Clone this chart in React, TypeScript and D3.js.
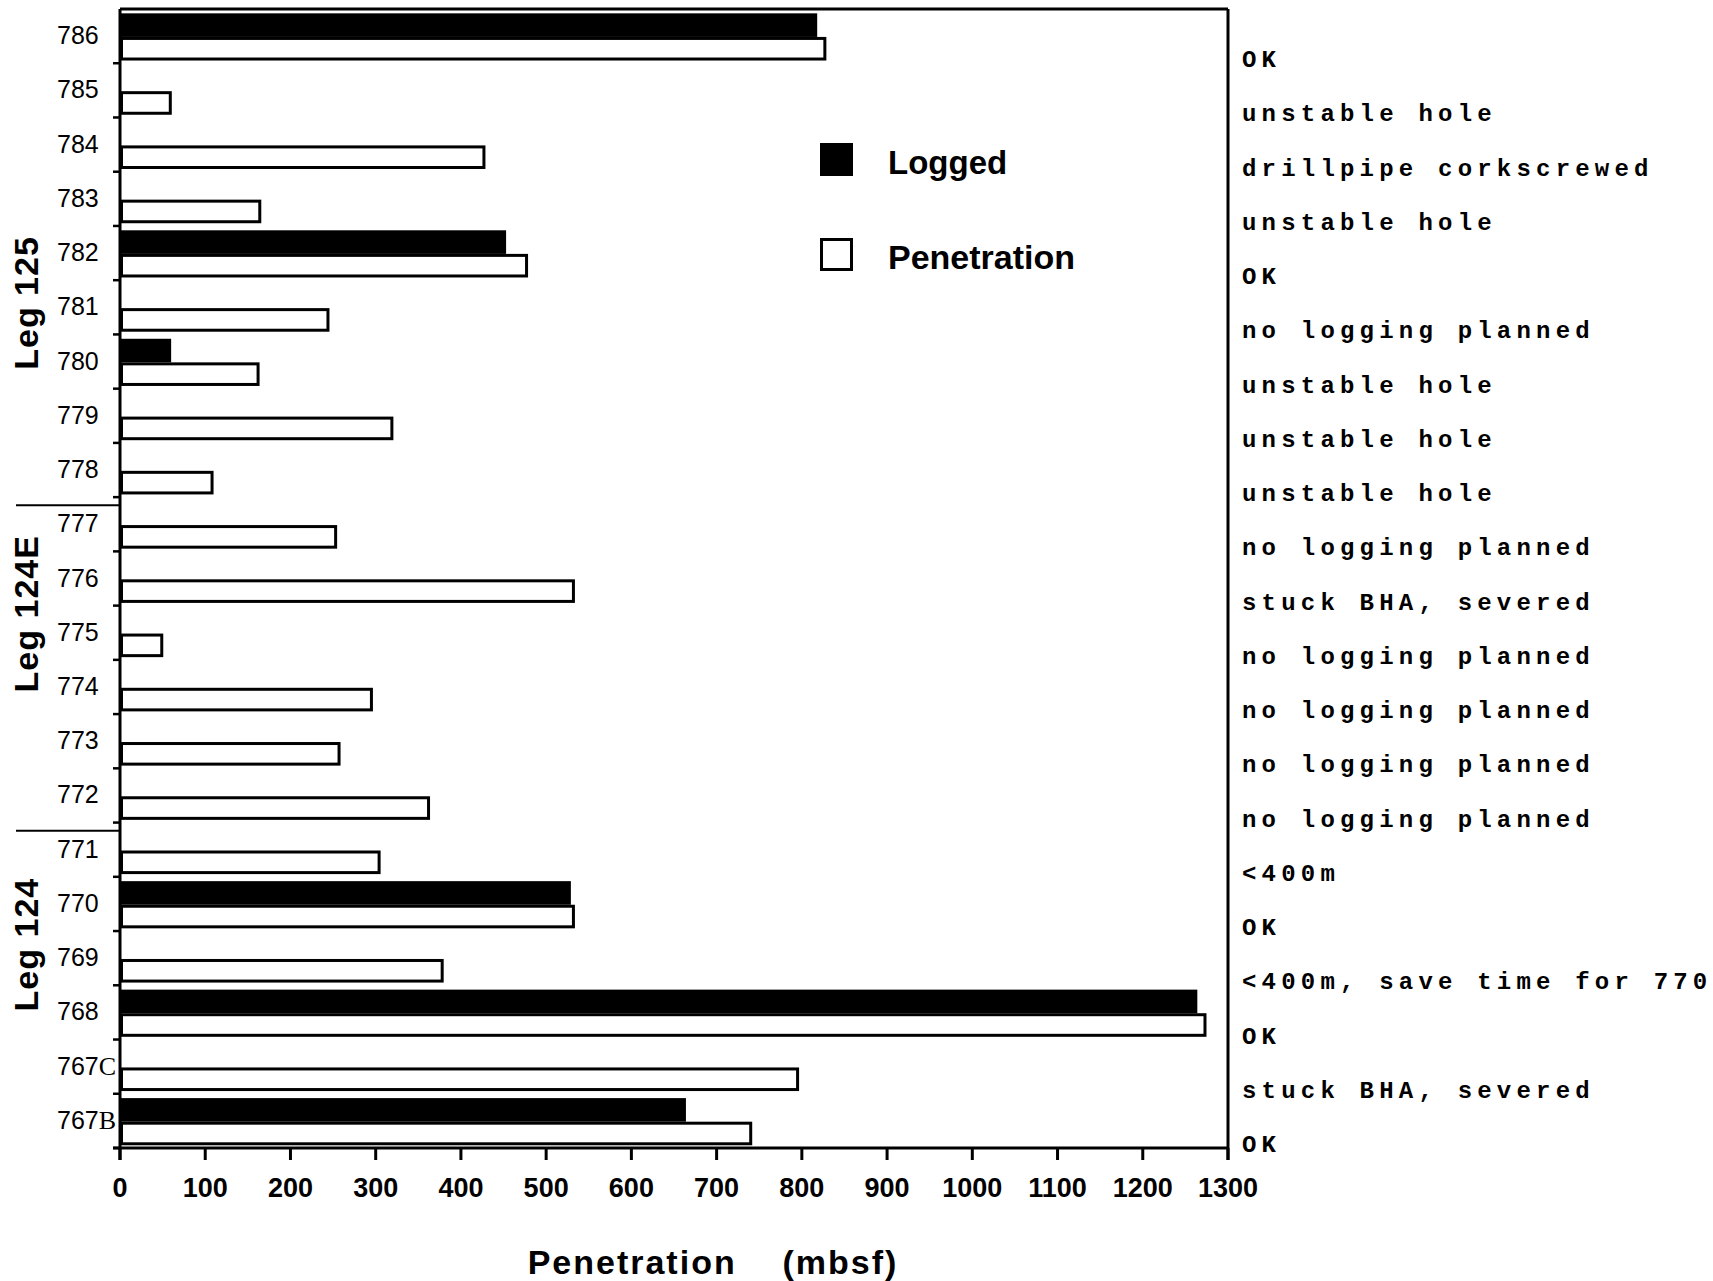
import React from "react";
import { scaleLinear, scaleBand } from "d3";

// sites, top to bottom as drawn
const sites = ["786", "785", "784", "783", "782", "781", "780", "779", "778", "777", "776", "775", "774", "773", "772", "771", "770", "769", "768", "767C", "767B"];
// logged interval (mbsf), null = not logged
const logged = [818, null, null, null, 453, null, 60, null, null, null, null, null, null, null, null, null, 529, null, 1264, null, 664];
// total penetration (mbsf)
const penetration = [827, 59, 427, 164, 477, 244, 162, 319, 108, 253, 532, 49, 295, 257, 362, 304, 532, 378, 1273, 795, 740];
const notes = [
  "OK",
  "unstable hole",
  "drillpipe corkscrewed",
  "unstable hole",
  "OK",
  "no logging planned",
  "unstable hole",
  "unstable hole",
  "unstable hole",
  "no logging planned",
  "stuck BHA, severed",
  "no logging planned",
  "no logging planned",
  "no logging planned",
  "no logging planned",
  "<400m",
  "OK",
  "<400m, save time for 770",
  "OK",
  "stuck BHA, severed",
  "OK",
];
const legNames = ["Leg 125", "Leg 124E", "Leg 124"];
const legBreaks = ["777", "771"]; // first site of the next leg
const xMax = 1300;

const W = 1713;
const H = 1281;
const sans = "'Liberation Sans', Arial, Helvetica, sans-serif";
const mono = "'Liberation Mono', 'Courier New', monospace";

const App = () => {
  const x = scaleLinear().domain([0, xMax]).range([120, 1228]);
  const y = scaleBand().domain(sites).range([9, 1148]).padding(0);
  const bw = y.bandwidth();
  const sub = scaleBand().domain(["logged", "pen"]).range([0.08 * bw, 0.95 * bw]);
  const [x0, x1] = x.range();
  const [y0, y1] = y.range();
  const ticks = x.ticks(13);

  // where the leg labels sit (in band units from top)
  const legPos = [5.42, 11.15, 17.25];

  return (
    <svg width={W} height={H} style={{ position: "absolute", left: 0, top: 0, background: "#fff" }}>
      {/* bars */}
      {sites.map((s, i) => (
        <g key={s}>
          {logged[i] != null && (
            <rect x={x(0)} y={y(s)! + sub("logged")!} width={x(logged[i]!) - x(0)} height={sub.bandwidth()} fill="#000" />
          )}
          <rect
            x={x(0) + 1.5}
            y={y(s)! + sub("pen")! + 1.5}
            width={x(penetration[i]) - x(0) - 1.5}
            height={sub.bandwidth() - 3}
            fill="#fff"
            stroke="#000"
            strokeWidth={3}
          />
        </g>
      ))}

      {/* frame */}
      <line x1={x0} x2={x1} y1={y0} y2={y0} stroke="#000" strokeWidth={3} />
      <line x1={x1} x2={x1} y1={y0} y2={y1 + 12} stroke="#000" strokeWidth={3} />
      <line x1={x0} x2={x0} y1={y0} y2={y1 + 12} stroke="#000" strokeWidth={3} />
      <line x1={x0 - 7} x2={x1} y1={y1} y2={y1} stroke="#000" strokeWidth={3} />

      {/* y ticks at band boundaries */}
      {sites.map((s) => (
        <line key={"t" + s} x1={x0 - 7} x2={x0} y1={y(s)! + bw} y2={y(s)! + bw} stroke="#000" strokeWidth={2.5} />
      ))}

      {/* y labels */}
      {sites.map((s) => (
        <text key={"l" + s} x={57} y={y(s)! + bw / 2 + 8} fontFamily={sans} fontSize={25} fill="#000">
          {s.slice(0, 3)}
          {s.length > 3 && <tspan fontFamily="'Liberation Serif', 'Times New Roman', serif" fontSize={26}>{s.slice(3)}</tspan>}
        </text>
      ))}

      {/* x ticks */}
      {ticks.map((t) => (
        <g key={"x" + t}>
          <line x1={x(t)} x2={x(t)} y1={y1} y2={y1 + 12} stroke="#000" strokeWidth={3} />
          <text x={x(t)} y={1197} textAnchor="middle" fontFamily={sans} fontWeight="bold" fontSize={27} fill="#000">
            {t}
          </text>
        </g>
      ))}

      {/* x title */}
      <text x={713} y={1274} textAnchor="middle" fontFamily={sans} fontWeight="bold" fontSize={34} letterSpacing={2} fill="#000" style={{ whiteSpace: "pre" }}>
        {"Penetration    (mbsf)"}
      </text>

      {/* leg separators */}
      {legBreaks.map((b) => (
        <line key={"b" + b} x1={16} x2={x0} y1={y(b)! + 0.15 * bw} y2={y(b)! + 0.15 * bw} stroke="#000" strokeWidth={2} />
      ))}

      {/* leg names */}
      {legNames.map((n, i) => {
        const cy = y0 + legPos[i] * bw;
        return (
          <text
            key={n}
            transform={`translate(38,${cy}) rotate(-90)`}
            textAnchor="middle"
            fontFamily={sans}
            fontWeight="bold"
            fontSize={34}
            letterSpacing={1}
            fill="#000"
          >
            {n}
          </text>
        );
      })}

      {/* notes on the right */}
      {sites.map((s, i) => (
        <text key={"n" + s} x={1242} y={y(s)! + bw + 4} fontFamily={mono} fontWeight="bold" fontSize={24} letterSpacing={5.2} fill="#000">
          {notes[i]}
        </text>
      ))}

      {/* legend */}
      <rect x={820} y={143} width={33} height={33} fill="#000" />
      <text x={888} y={174} fontFamily={sans} fontWeight="bold" fontSize={33} fill="#000">
        Logged
      </text>
      <rect x={821.5} y={239.5} width={30} height={30} fill="#fff" stroke="#000" strokeWidth={3} />
      <text x={888} y={269} fontFamily={sans} fontWeight="bold" fontSize={34} fill="#000">
        Penetration
      </text>
    </svg>
  );
};

export default App;
